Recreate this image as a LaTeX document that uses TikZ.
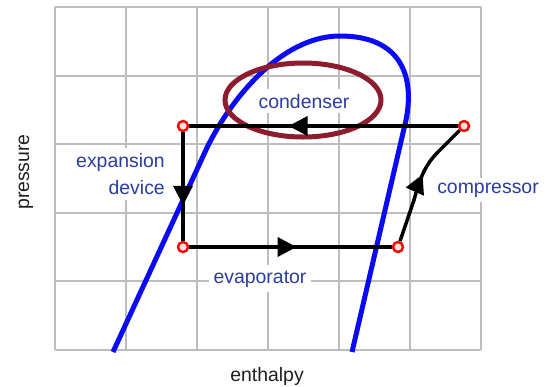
\documentclass[tikz,border=0pt]{standalone}
\usepackage{fontspec}
\setmainfont{Liberation Sans}
\usetikzlibrary{arrows.meta,decorations.markings}
\definecolor{azulCurva}{HTML}{0A0AF5}
\definecolor{azulTexto}{HTML}{2B3D9E}
\definecolor{granate}{HTML}{8C1C2E}
\definecolor{rejilla}{HTML}{BDBDBD}

\begin{document}
\begin{tikzpicture}[x=1bp,y=-1bp,>=Stealth,
  lbl/.style={font=\fontsize{19.5}{27}\selectfont,text=azulTexto,fill=white,inner sep=5bp},
  axislbl/.style={font=\fontsize{19.5}{27}\selectfont,text=black!88},
  valve/.style={circle,draw=red,fill=red!12,line width=2.4bp,inner sep=0pt,minimum size=10bp},
  flow/.style={line width=3.5bp},
  midtip/.style={postaction={decorate,decoration={markings,
    mark=at position #1 with {\arrow{Triangle[length=19bp,width=19bp]}}}}}]
  \useasboundingbox (0,0) rectangle (553,386);
  \foreach \i in {0,...,6}
    \draw[rejilla,line width=2bp] (55+71*\i,7) -- (55+71*\i,350);
  \foreach \j in {0,...,5}
    \draw[rejilla,line width=2bp] (55,7+68.6*\j) -- (481,7+68.6*\j);
  \draw[azulCurva,line width=5bp] (113,352) -- (205,152)
    .. controls (228,102) and (280,36) .. (340,36)
    .. controls (400,36) and (415,75) .. (406,120) -- (352,352);
  \node[lbl,align=right,anchor=east] (expn) at (170,174) {expansion\\device};
  \node[lbl,anchor=base] (cond) at (304,108) {condenser};
  \node[lbl,anchor=base] (comp) at (488,193) {compressor};
  \node[lbl,anchor=base] (evap) at (260,283) {evaporator};
  \node[axislbl,rotate=90] (pres) at (26,172) {pressure};
  \node[axislbl,anchor=base] (enth) at (267,381) {enthalpy};
  \draw[granate,line width=5bp] (303,100) ellipse [x radius=78bp,y radius=37bp];
  \node[valve] (tl) at (183,126) {};
  \node[valve] (tr) at (464,126) {};
  \node[valve] (bl) at (183,247) {};
  \node[valve] (br) at (398,247) {};
  \draw[flow,midtip=0.63] (tr) -- (tl);
  \draw[flow,midtip=0.67] (tl) -- (bl);
  \draw[flow,midtip=0.53] (bl) -- (br);
  \draw[flow,midtip=0.55] (br) -- (414,200)
    .. controls (420,178) and (425,165) .. (438,152) -- (tr);
\end{tikzpicture}
\end{document}
